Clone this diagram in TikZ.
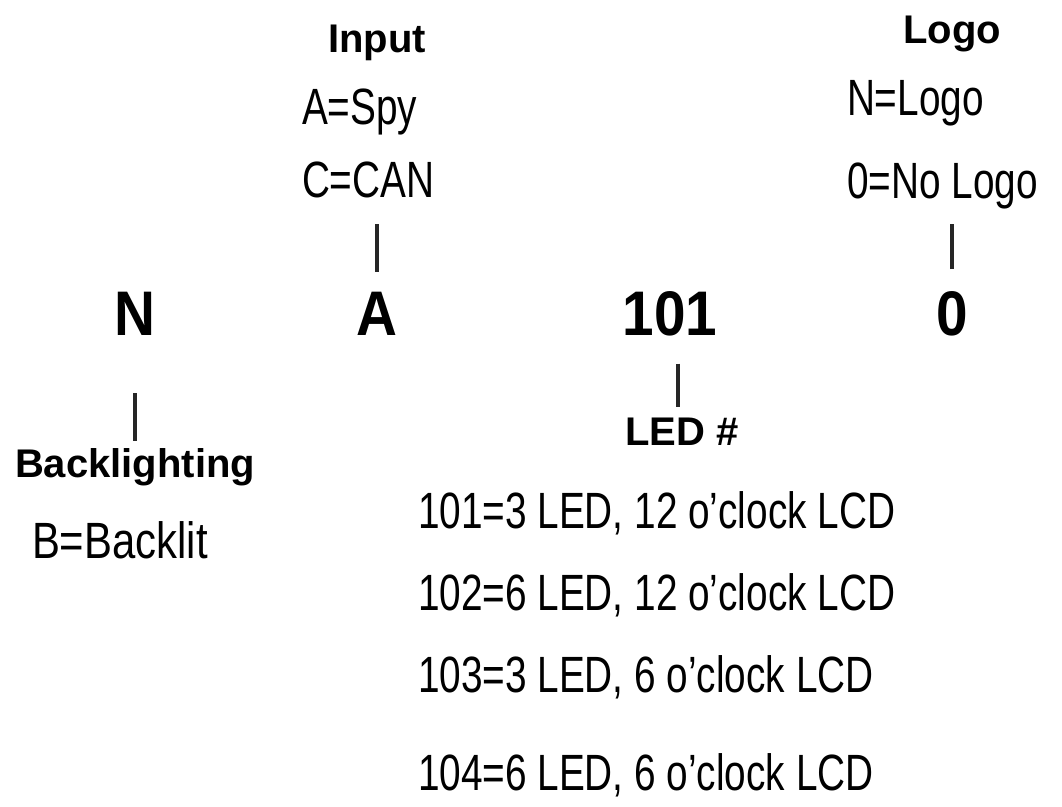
\documentclass[tikz,border=0pt]{standalone}
\usepackage{fontspec}
\setmainfont[FakeStretch=0.76]{Liberation Sans}
\newfontfamily\hdrfont[UprightFont={* Bold}]{Liberation Sans}
\newfontfamily\bigfont[FakeStretch=0.9,UprightFont={* Bold}]{Liberation Sans}
\begin{document}
\begin{tikzpicture}[x=1pt,y=-1pt,
  every node/.style={inner sep=0pt,outer sep=0pt,text=black},
  code/.style={font=\bigfont\fontsize{63}{70}\selectfont,anchor=base},
  head/.style={font=\hdrfont\fontsize{40}{46}\selectfont},
  item/.style={font=\fontsize{51}{58}\selectfont,anchor=base west},
  tick/.style={line width=3.2pt,draw=black!85}]
\useasboundingbox[fill=white] (0,0) rectangle (1062,806);
% code letters
\node[code] (bigN) at (135,335) {N};
\node[code] (bigA) at (377,335) {A};
\node[code] (big101) at (670,335) {101};
\node[code] (bigO) at (952,335) {0};
% input
\node[head,anchor=base] (inHead) at (377,52) {Input};
\node[item] (inA) at (302,124) {A=Spy};
\node[item] (inC) at (302,197) {C=CAN};
% logo
\node[head,anchor=base] (logoHead) at (952,43) {Logo};
\node[item] (logoN) at (847,115) {N=Logo};
\node[item] (logoO) at (847,198) {0=No Logo};
% backlighting
\node[head,anchor=base west] (blHead) at (15,477) {Backlighting};
\node[item] (blB) at (32,558) {\scalebox{1.08}[1]{B=Backlit}};
% LED
\node[head,anchor=base] (ledHead) at (682,445) {LED \#};
\node[item] (led1) at (418,528) {101=3 LED, 12 o’clock LCD};
\node[item] (led2) at (418,610) {102=6 LED, 12 o’clock LCD};
\node[item] (led3) at (418,692) {103=3 LED, 6 o’clock LCD};
\node[item] (led4) at (418,790) {104=6 LED, 6 o’clock LCD};
% connectors
\draw[tick,shorten <=20pt,shorten >=26pt] (bigA.north) -- (bigA.north |- inC.south);
\draw[tick,shorten <=22pt,shorten >=15pt] (bigO.north) -- (bigO.north |- logoO.south);
\draw[tick,shorten <=58pt,shorten >=7pt] (bigN.south) -- (bigN.south |- blHead.north);
\draw[tick,shorten <=28pt,shorten >=10pt] ([xshift=8pt]big101.south) -- ([xshift=8pt]big101.south |- ledHead.north);
\end{tikzpicture}
\end{document}
